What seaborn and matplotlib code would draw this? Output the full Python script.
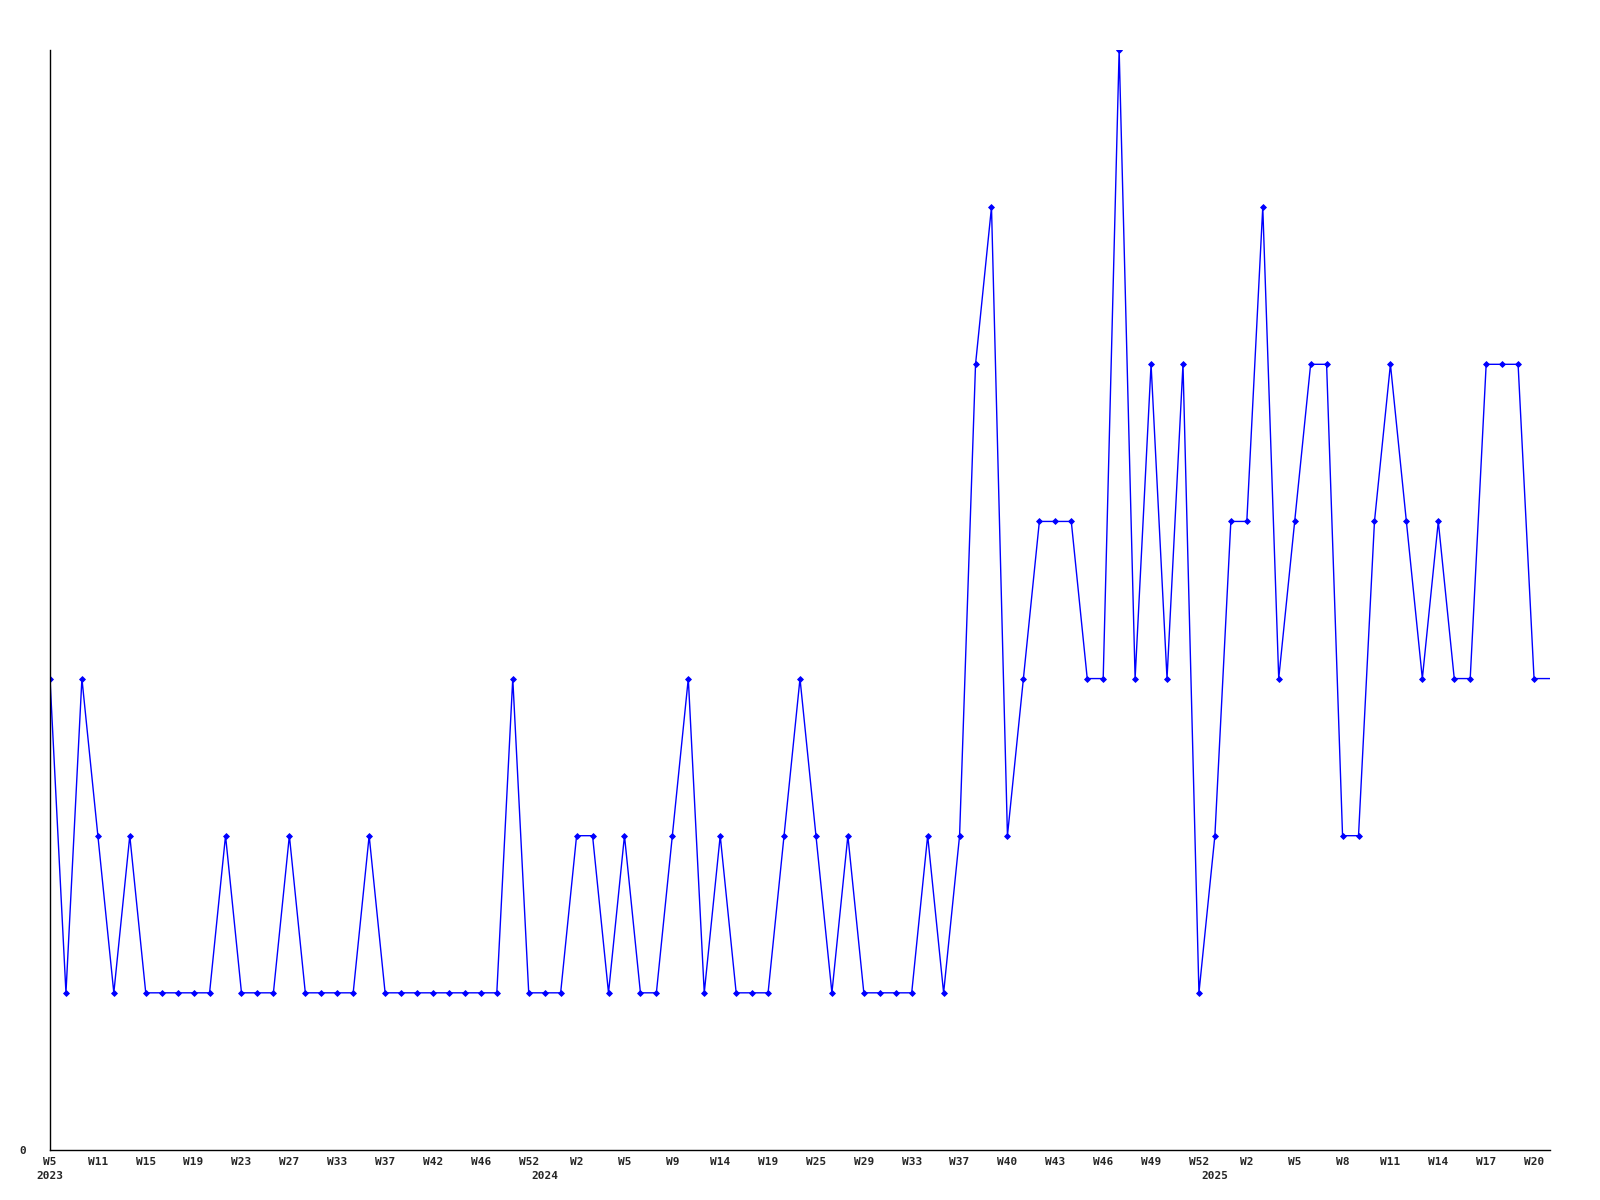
import numpy as np
import pandas as pd
import matplotlib
matplotlib.use("Agg")
import matplotlib.pyplot as plt
import matplotlib.transforms as mtransforms
import seaborn as sns

# weekly counts, one value per data point (weeks without data are skipped)
counts = [3, 1, 3, 2, 1, 2, 1, 1, 1, 1,
          1, 2, 1, 1, 1, 2, 1, 1, 1, 1,
          2, 1, 1, 1, 1, 1, 1, 1, 1, 3,
          1, 1, 1, 2, 2, 1, 2, 1, 1, 2,
          3, 1, 2, 1, 1, 1, 2, 3, 2, 1,
          2, 1, 1, 1, 1, 2, 1, 2, 5, 6,
          2, 3, 4, 4, 4, 3, 3, 7, 3, 5,
          3, 5, 1, 2, 4, 4, 6, 3, 4, 5,
          5, 2, 2, 4, 5, 4, 3, 4, 3, 3,
          5, 5, 5, 3, 3]

# labelled every third point
week_labels = ["W5", "W11", "W15", "W19", "W23", "W27", "W33", "W37", "W42", "W46",
               "W52", "W2", "W5", "W9", "W14", "W19", "W25", "W29", "W33", "W37",
               "W40", "W43", "W46", "W49", "W52", "W2", "W5", "W8", "W11", "W14",
               "W17", "W20"]
years = ["2023", "2024", "2025"]
year_pos = [0, 31, 73]

df = pd.DataFrame({"idx": np.arange(len(counts)), "count": counts})

sns.set_style("white")
plt.rcParams['font.family'] = ['DejaVu Sans Mono', 'DejaVu Sans']

fig = plt.figure(figsize=(16, 12), dpi=100)
ax = fig.add_axes([0.03125, 0.0417, 0.9375, 0.9166])

sns.lineplot(data=df, x="idx", y="count", ax=ax, color="#0000ff", linewidth=1.0,
             marker="D", markersize=3, markeredgewidth=0.6, markeredgecolor="#0000ff",
             markevery=list(range(len(counts) - 1)))

ax.set_xlim(0, len(counts) - 1)
ax.set_ylim(0, max(counts))

tick_pos = list(range(0, len(counts) - 1, 3))
ax.set_xticks(tick_pos)
ax.set_xticklabels(week_labels, fontsize=8, fontweight="bold")
ax.set_yticks([0])
ax.set_yticklabels(["0"], fontsize=8, fontweight="bold")
ax.tick_params(axis="x", length=0, pad=5)
ax.tick_params(axis="y", length=0, pad=17)
ax.set_xlabel("")
ax.set_ylabel("")

# year captions under the first week of each year
trans = mtransforms.blended_transform_factory(ax.transData, ax.transAxes)
for p, y in zip(year_pos, years):
    ax.text(p, -0.0236, y, transform=trans, ha="center", va="center",
            fontsize=8, fontweight="bold")

for s in ["top", "right"]:
    ax.spines[s].set_visible(False)
for s in ["left", "bottom"]:
    ax.spines[s].set_color("black")
    ax.spines[s].set_linewidth(1.0)

fig.savefig("out.png", dpi=100)
